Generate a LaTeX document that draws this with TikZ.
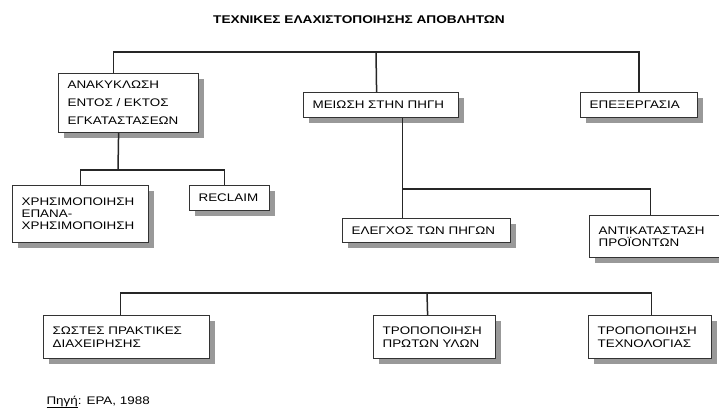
\documentclass[tikz,border=0pt]{standalone}
\usepackage{fontspec}
\newfontfamily\diafont{Liberation Sans}[FakeStretch=1.22]
\usetikzlibrary{positioning, shadows, calc}

\begin{document}
\begin{tikzpicture}[x=1pt, y=-1pt,
  techbox/.style={draw=black!80, line width=1.2pt, fill=white, anchor=north west, align=left,
    inner xsep=9pt, inner ysep=2pt, font=\diafont\fontsize{11}{13}\selectfont,
    drop shadow={shadow xshift=5pt, shadow yshift=-5pt, fill=black!40, opacity=1}},
  link/.style={draw=black!85, line width=1.5pt}]
  \useasboundingbox (0,0) rectangle (719,418);
  \node[font=\diafont\bfseries\fontsize{11.2}{13}\selectfont] (title) at (359,20) {ΤΕΧΝΙΚΕΣ ΕΛΑΧΙΣΤΟΠΟΙΗΣΗΣ ΑΠΟΒΛΗΤΩΝ};
  % first level
  \node[techbox, text width=122pt, minimum height=59pt, font=\diafont\fontsize{11}{18}\selectfont] (anak) at (58,73) {ΑΝΑΚΥΚΛΩΣΗ\\ΕΝΤΟΣ / ΕΚΤΟΣ\\ΕΓΚΑΤΑΣΤΑΣΕΩΝ};
  \node[techbox, text width=137pt, minimum height=25pt] (meiosi) at (303,92) {ΜΕΙΩΣΗ ΣΤΗΝ ΠΗΓΗ};
  \node[techbox, text width=99pt, minimum height=25pt] (epex) at (580,92) {ΕΠΕΞΕΡΓΑΣΙΑ};
  % second level
  \node[techbox, text width=118pt, minimum height=57pt, font=\diafont\fontsize{11}{12}\selectfont] (xrisi) at (12,185) {ΧΡΗΣΙΜΟΠΟΙΗΣΗ\\ΕΠΑΝΑ-\\ΧΡΗΣΙΜΟΠΟΙΗΣΗ};
  \node[techbox, text width=62pt, minimum height=25pt] (reclaim) at (189,185) {RECLAIM};
  \node[techbox, text width=150pt, minimum height=24pt] (elegxos) at (342,218) {ΕΛΕΓΧΟΣ ΤΩΝ ΠΗΓΩΝ};
  \node[techbox, text width=121pt, minimum height=42pt, font=\diafont\fontsize{11}{12}\selectfont] (antik) at (589,215) {ΑΝΤΙΚΑΤΑΣΤΑΣΗ\\ΠΡΟΪΟΝΤΩΝ};
  % third row
  \node[techbox, text width=148pt, minimum height=43pt] (sostes) at (43,315) {ΣΩΣΤΕΣ ΠΡΑΚΤΙΚΕΣ\\ΔΙΑΧΕΙΡΗΣΗΣ};
  \node[techbox, text width=104pt, minimum height=43pt] (trop1) at (373,315) {ΤΡΟΠΟΠΟΙΗΣΗ\\ΠΡΩΤΩΝ ΥΛΩΝ};
  \node[techbox, text width=105pt, minimum height=43pt] (trop2) at (588,315) {ΤΡΟΠΟΠΟΙΗΣΗ\\ΤΕΧΝΟΛΟΓΙΑΣ};
  \node[anchor=west, font=\diafont\fontsize{11}{13}\selectfont] (source) at (43,402) {\underline{Πηγή}: EPA, 1988};
  % bars
  \coordinate (topbar) at (376,52);
  \coordinate (recbar) at (118,170);
  \coordinate (srcbar) at (402,189);
  \coordinate (bottombar) at (427,293);
  \draw[link] ([xshift=-15pt]anak.north) |- (topbar) -| (epex.north);
  \draw[link] (topbar) -- ([xshift=-4.5pt]meiosi.north);
  \draw[link] ([xshift=-10pt]anak.south) -- (recbar);
  \draw[link] (xrisi.north) |- (recbar) -| ([xshift=-5pt]reclaim.north);
  \draw[link] ([xshift=21.5pt]meiosi.south) -- ([xshift=-24pt]elegxos.north);
  \draw[link] (srcbar) -| ([xshift=-8.5pt]antik.north);
  \draw[link] ([xshift=-6pt]sostes.north) |- (bottombar) -| ([xshift=1.5pt]trop2.north);
  \draw[link] (bottombar) -- ([xshift=-7pt]trop1.north);
\end{tikzpicture}
\end{document}
